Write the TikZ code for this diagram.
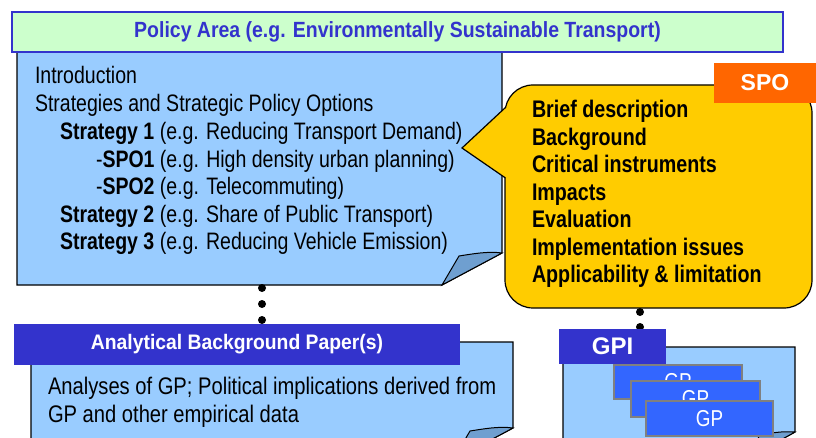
\documentclass[tikz,border=0pt]{standalone}
\usepackage{fontspec}
\setmainfont{Liberation Sans}
\newfontfamily\nar[FakeStretch=0.82]{Liberation Sans}
\newfontfamily\narb[FakeStretch=0.82]{Liberation Sans}
\newfontfamily\ttl[FakeStretch=0.885]{Liberation Sans}
\newfontfamily\abpf[FakeStretch=0.92]{Liberation Sans}
\newfontfamily\bodyf[FakeStretch=0.84]{Liberation Sans}
\definecolor{lblue}{HTML}{99CCFF}
\definecolor{foldc}{HTML}{6F9FD0}
\definecolor{tgreen}{HTML}{CCFFCC}
\definecolor{dblue}{HTML}{3333CC}
\definecolor{spoy}{HTML}{FFCC00}
\definecolor{spoo}{HTML}{FF6600}
\definecolor{gpb}{HTML}{3366FF}
\definecolor{gpg}{HTML}{808080}
\tikzset{
  body/.style={fill=lblue, draw=black, line width=1.2pt},
  foldpart/.style={fill=foldc, draw=black, line width=1pt},
  hdr/.style={fill=dblue, text=white, inner sep=0pt},
  maintxt/.style={anchor=base west, font=\nar\fontsize{23.8}{25}\selectfont},
  spotxt/.style={anchor=base west, font=\narb\bfseries\fontsize{24}{26}\selectfont},
  abptxt/.style={anchor=base west, font=\bodyf\fontsize{24}{26}\selectfont},
  gpcard/.style={fill=gpb, draw=gpg, line width=1.5pt, anchor=north west, text=white,
     font=\nar\fontsize{23}{25}\selectfont},
  dot/.style={circle, fill=black, minimum size=8pt, inner sep=0pt},
}
\begin{document}
\begin{tikzpicture}[x=1pt,y=-1pt, every node/.style={inner sep=0pt, outer sep=0pt}]
\useasboundingbox (0,0) rectangle (816,438);
\clip (0,0) rectangle (816,438);
\fill[white] (0,0) rectangle (816,438);

% main box
\draw[body] (17,52) -- (502,52) -- (502,253) -- (442,285) -- (17,285) -- cycle;
\draw[foldpart] (502,253) .. controls (488,251) and (472,254) .. (459,256) -- (442,285) -- cycle;
\node[maintxt] (l1) at (35,84) {Introduction};
\node[maintxt] (l2) at (35,112) {Strategies and Strategic Policy Options};
\node[maintxt] (l3) at (60,140) {\textbf{Strategy 1} (e.g. Reducing Transport Demand)};
\node[maintxt] (l4) at (96,167.5) {-\textbf{SPO1} (e.g. High density urban planning)};
\node[maintxt] (l5) at (96,195) {-\textbf{SPO2} (e.g. Telecommuting)};
\node[maintxt] (l6) at (60,222.5) {\textbf{Strategy 2} (e.g. Share of Public Transport)};
\node[maintxt] (l7) at (60,250) {\textbf{Strategy 3} (e.g. Reducing Vehicle Emission)};

% title
\node[fill=tgreen, draw=dblue, line width=1.5pt, minimum width=771pt, minimum height=40pt,
      text=dblue, font=\ttl\bfseries\fontsize{22}{24}\selectfont] (title) at (397.5,32) {Policy Area (e.g. Environmentally Sustainable Transport)};

% SPO bubble
\node[draw=black, fill=spoy, rounded corners=28pt, minimum width=307pt, minimum height=223pt, line width=1.2pt] (spo) at (658.5,196.5) {};
\fill[spoy] (462,148) -- (506,107) -- (511,107) -- (511,178) -- (505.5,178) -- cycle;
\draw[line width=1.2pt, line join=miter] (506,107) -- (462,148) -- (505.5,178);
\node[spotxt] (s1) at (532,118) {Brief description};
\node[spotxt] (s2) at (532,145.5) {Background};
\node[spotxt] (s3) at (532,173) {Critical instruments};
\node[spotxt] (s4) at (532,200.5) {Impacts};
\node[spotxt] (s5) at (532,228) {Evaluation};
\node[spotxt] (s6) at (532,255.5) {Implementation issues};
\node[spotxt] (s7) at (532,283) {Applicability \& limitation};
\node[fill=spoo, minimum width=102pt, minimum height=40pt, text=white,
      font=\bfseries\fontsize{23}{25}\selectfont] (spolabel) at (765,83) {SPO};

% dots
\node[dot] (d1) at (262,288) {};
\node[dot] (d2) at (262,304) {};
\node[dot] (d3) at (262,320) {};
\node[dot] (d4) at (640,312) {};
\node[dot] (d5) at (640,327) {};

% ABP
\draw[body] (31,342) -- (513,342) -- (513,428) -- (453,460) -- (31,460) -- cycle;
\draw[foldpart] (513,428) .. controls (499,426) and (483,429) .. (470,431) -- (453,460) -- cycle;
\node[hdr, minimum width=446pt, minimum height=41pt, font=\abpf\bfseries\fontsize{21}{23}\selectfont] (abp) at (237,344.5) {Analytical Background Paper(s)};
\node[abptxt] (a1) at (48,394) {Analyses of GP; Political implications derived from};
\node[abptxt] (a2) at (48,422) {GP and other empirical data};

% GPI
\draw[body] (563,347) -- (795,347) -- (795,432) -- (740,462) -- (563,462) -- cycle;
\draw[foldpart] (795,432) .. controls (783,431) and (770,433) .. (760,435) -- (745,460) -- cycle;
\node[hdr, minimum width=107pt, minimum height=35pt, font=\bfseries\fontsize{24}{26}\selectfont] (gpi) at (612.5,346.5) {GPI};
\node[gpcard, minimum width=128pt, minimum height=34pt] (gp1) at (614,365) {GP};
\node[gpcard, minimum width=129pt, minimum height=36pt] (gp2) at (631,381) {GP};
\node[gpcard, minimum width=127pt, minimum height=35pt] (gp3) at (646,401) {GP};
\end{tikzpicture}
\end{document}
